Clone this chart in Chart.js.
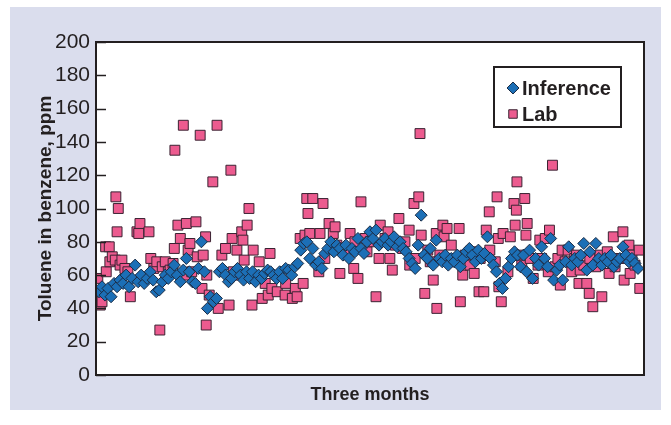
<!DOCTYPE html>
<html>
<head>
<meta charset="utf-8">
<script src="https://cdn.jsdelivr.net/npm/chart.js@4.4.1/dist/chart.umd.min.js"></script>
<style>
  html, body { margin: 0; padding: 0; background: #ffffff; }
  #panel { position: absolute; left: 10px; top: 7px; width: 651px; height: 403px; background: #dadded; }
  #wrap { position: absolute; left: 0; top: 0; width: 671px; height: 425px; }
</style>
</head>
<body>
<div id="panel"></div>
<div id="wrap"><canvas id="chart" width="671" height="425"></canvas></div>
<script>
// Series names, as shown in the legend
const seriesNames = ['Inference', 'Lab'];

// Axis text
const xTitle = 'Three months';
const yTitle = 'Toluene in benzene, ppm';
const yTickLabels = [0, 20, 40, 60, 80, 100, 120, 140, 160, 180, 200];

// Inferred toluene (ppm), one value every half day from day 0.5 to day 90
const inferenceStartDay = 0.5;
const inferenceStepDays = 0.5;
const inferencePpm = [
  50, 53, 48, 52, 47, 55, 53, 57, 55, 60,
  53, 58, 66, 56, 60, 55, 58, 62, 57, 50,
  51, 56, 60, 58, 62, 66, 60, 56, 63, 70,
  62, 56, 55, 64, 80, 62, 40, 47, 44, 46,
  62, 64, 60, 56, 58, 62, 64, 60, 57, 62,
  58, 62, 56, 60, 58, 61, 63, 62, 60, 58,
  62, 58, 64, 63, 60, 65, 67, 75, 79, 80,
  70, 76, 66, 68, 64, 73, 76, 80, 74, 78,
  76, 72, 78, 70, 76, 74, 82, 76, 73, 80,
  86, 82, 87, 78, 80, 82, 78, 80, 83, 77,
  80, 76, 74, 70, 67, 64, 78, 96, 72, 70,
  76, 66, 81, 70, 68, 72, 66, 70, 68, 72,
  65, 70, 74, 76, 72, 68, 75, 70, 73, 83,
  70, 66, 62, 55, 52, 58, 65, 70, 74, 72,
  65, 72, 62, 75, 58, 70, 66, 77, 70, 65,
  82, 57, 63, 66, 57, 68, 77, 66, 70, 68,
  72, 79, 63, 74, 66, 79, 70, 66, 70, 68,
  72, 65, 68, 70, 77, 72, 68, 70, 67, 64
];

// Lab analyses: [day, toluene ppm]
const labSamples = [
  [0.3, 58], [0.7, 42], [1.0, 44], [1.6, 77], [1.7, 62], [2.2, 77], [2.3, 68], [2.7, 71], [3.2, 69], [3.3, 107],
  [3.5, 86], [3.7, 100], [4.0, 66], [4.3, 69], [4.8, 64], [5.3, 62], [5.7, 47], [6.8, 86], [7.1, 85], [7.3, 91],
  [8.8, 86], [9.1, 70], [9.6, 64], [10.1, 68], [10.6, 27], [11.0, 65], [11.5, 68], [12.0, 62], [12.3, 63], [12.8, 67],
  [13.0, 76], [13.1, 135], [13.6, 90], [14.0, 82], [14.5, 150], [14.8, 60], [15.0, 91], [15.3, 75], [15.6, 79], [15.9, 62],
  [16.6, 92], [16.8, 71], [17.3, 144], [17.6, 52], [17.8, 72], [18.2, 83], [18.3, 30], [18.4, 60], [18.8, 48], [19.4, 116],
  [20.1, 150], [20.3, 40], [20.9, 72], [21.5, 76], [22.1, 42], [22.4, 123], [22.6, 82], [22.8, 62], [23.4, 75], [23.9, 60],
  [24.2, 86], [24.4, 81], [24.6, 69], [25.1, 90], [25.4, 100], [25.9, 42], [26.1, 75], [26.4, 58], [27.1, 68], [27.6, 46],
  [28.1, 55], [28.6, 48], [28.9, 73], [29.2, 52], [30.1, 50], [31.4, 48], [31.5, 55], [32.6, 46], [33.1, 52], [33.4, 47],
  [33.9, 82], [34.4, 55], [34.7, 84], [35.0, 106], [35.2, 97], [35.5, 85], [36.0, 106], [37.0, 62], [37.2, 85], [37.7, 103],
  [38.0, 70], [38.7, 91], [39.4, 85], [39.7, 89], [40.0, 78], [40.5, 61], [41.4, 75], [42.2, 85], [42.8, 64], [43.0, 80],
  [43.5, 58], [44.0, 104], [44.7, 82], [45.0, 74], [45.5, 80], [46.5, 47], [47.0, 70], [47.2, 90], [48.0, 82], [48.5, 86],
  [48.8, 70], [49.2, 63], [49.7, 78], [50.3, 94], [50.9, 76], [51.3, 80], [52.0, 87], [52.1, 66], [52.8, 103], [53.0, 70],
  [53.6, 107], [53.8, 145], [54.0, 84], [54.6, 49], [55.1, 75], [55.5, 68], [56.0, 57], [56.5, 85], [56.6, 40], [57.1, 72],
  [57.6, 90], [57.8, 83], [58.3, 88], [58.8, 68], [59.0, 78], [59.6, 70], [60.3, 88], [60.5, 44], [60.9, 60], [61.3, 72],
  [62.1, 66], [62.5, 74], [62.8, 61], [63.6, 50], [63.8, 70], [64.4, 50], [64.8, 87], [65.3, 98], [65.4, 75], [66.3, 68],
  [66.6, 107], [66.8, 82], [66.9, 53], [67.3, 44], [67.6, 85], [68.4, 62], [68.8, 83], [69.4, 103], [69.6, 90], [69.8, 99],
  [69.9, 116], [70.4, 72], [70.7, 66], [71.2, 106], [71.4, 84], [71.6, 91], [72.1, 70], [72.6, 58], [73.4, 66], [73.7, 81],
  [74.0, 70], [74.6, 82], [75.1, 62], [75.3, 87], [75.8, 126], [76.2, 65], [76.7, 70], [77.1, 54], [77.4, 75], [77.9, 68],
  [78.4, 75], [79.0, 62], [79.5, 70], [79.8, 72], [80.2, 55], [80.4, 63], [81.0, 66], [81.5, 55], [81.9, 49], [82.0, 70],
  [82.5, 41], [83.0, 65], [83.7, 72], [84.0, 47], [84.5, 68], [84.9, 74], [85.2, 61], [85.9, 83], [86.2, 65], [86.7, 70],
  [87.5, 86], [87.7, 57], [88.0, 70], [88.5, 78], [88.7, 61], [89.0, 72], [89.5, 66], [90.2, 75], [90.3, 52]
];

const INK = '#231f20';
const BLUE = '#1c6fb6';
const BLUE_EDGE = '#1b2c45';
const PINK = '#ec5b8f';
const PINK_EDGE = '#3a2232';
const TEXT_FONT = "'Liberation Sans', Arial, sans-serif";
const TICK_FONT = "'Liberation Sans Narrow', 'Liberation Sans', sans-serif";

const markerStyles = [
  { pointStyle: 'rectRot', radius: 6, fill: BLUE, edge: BLUE_EDGE },
  { pointStyle: 'rect', radius: 7, fill: PINK, edge: PINK_EDGE }
];

// White plot area, frame, inward tick marks and the boxed legend
const framePlugin = {
  id: 'frame',
  beforeDraw(chart) {
    const { ctx, chartArea: a } = chart;
    ctx.save();
    ctx.fillStyle = '#ffffff';
    ctx.fillRect(a.left, a.top, a.right - a.left, a.bottom - a.top);
    ctx.restore();
  },
  afterDraw(chart) {
    const { ctx, chartArea: a } = chart;
    const yScale = chart.scales.y;
    ctx.save();
    ctx.strokeStyle = INK;
    ctx.lineWidth = 1.5;
    yScale.ticks.forEach(t => {
      const y = Math.round(yScale.getPixelForValue(t.value)) + 0.5;
      ctx.beginPath();
      ctx.moveTo(a.left, y);
      ctx.lineTo(a.left + 10, y);
      ctx.stroke();
    });
    ctx.lineWidth = 2;
    ctx.strokeRect(a.left, a.top, a.right - a.left, a.bottom - a.top);

    // legend
    const boxW = 127, boxH = 60;
    const bx = a.right - 23 - boxW;
    const by = a.top + 25;
    ctx.fillStyle = '#ffffff';
    ctx.fillRect(bx, by, boxW, boxH);
    ctx.strokeStyle = INK;
    ctx.lineWidth = 2;
    ctx.strokeRect(bx, by, boxW, boxH);
    const rows = [by + 21, by + 47];
    seriesNames.forEach((name, i) => {
      const m = markerStyles[i];
      ctx.fillStyle = m.fill;
      ctx.strokeStyle = m.edge;
      ctx.lineWidth = 1;
      Chart.helpers.drawPoint(ctx, {
        pointStyle: m.pointStyle,
        radius: i === 0 ? 6 : 6,
        rotation: 0,
        borderWidth: 1
      }, bx + 19, rows[i]);
      ctx.fillStyle = INK;
      ctx.font = 'bold 20px ' + TEXT_FONT;
      ctx.textBaseline = 'middle';
      ctx.textAlign = 'left';
      ctx.fillText(name, bx + 28, rows[i] + 1);
    });
    ctx.restore();
  }
};

const inferencePoints = inferencePpm.map((v, i) => ({ x: inferenceStartDay + i * inferenceStepDays, y: v }));
const labPoints = labSamples.map(([day, ppm]) => ({ x: day, y: ppm }));

new Chart(document.getElementById('chart'), {
  type: 'scatter',
  data: {
    datasets: [
      {
        label: seriesNames[0],
        data: inferencePoints,
        pointStyle: markerStyles[0].pointStyle,
        pointRadius: markerStyles[0].radius,
        backgroundColor: markerStyles[0].fill,
        borderColor: markerStyles[0].edge,
        borderWidth: 1
      },
      {
        label: seriesNames[1],
        data: labPoints,
        pointStyle: markerStyles[1].pointStyle,
        pointRadius: markerStyles[1].radius,
        backgroundColor: markerStyles[1].fill,
        borderColor: markerStyles[1].edge,
        borderWidth: 1
      }
    ]
  },
  options: {
    responsive: false,
    animation: false,
    devicePixelRatio: 1,
    layout: { padding: { left: 0, top: 42, right: 27, bottom: 0 } },
    plugins: { legend: { display: false }, tooltip: { enabled: false } },
    scales: {
      x: {
        type: 'linear',
        min: 0,
        max: 91,
        ticks: { display: false },
        grid: { display: false, drawTicks: false },
        border: { display: false },
        title: {
          display: true,
          text: xTitle,
          color: INK,
          font: { family: TEXT_FONT, size: 18, weight: 'bold' },
          padding: { top: 0, bottom: 19 }
        },
        afterFit(scale) { scale.height = 50; }
      },
      y: {
        min: 0,
        max: 200,
        afterBuildTicks(scale) { scale.ticks = yTickLabels.map(v => ({ value: v })); },
        ticks: {
          padding: 6,
          color: INK,
          font: { family: TICK_FONT, size: 21 }
        },
        grid: { display: false, drawTicks: false },
        border: { display: false },
        title: {
          display: true,
          text: yTitle,
          color: INK,
          font: { family: TEXT_FONT, size: 19, weight: 'bold' },
          padding: { top: 34, bottom: 0 }
        },
        afterFit(scale) { scale.width = 96; }
      }
    }
  },
  plugins: [framePlugin]
});
</script>
</body>
</html>
